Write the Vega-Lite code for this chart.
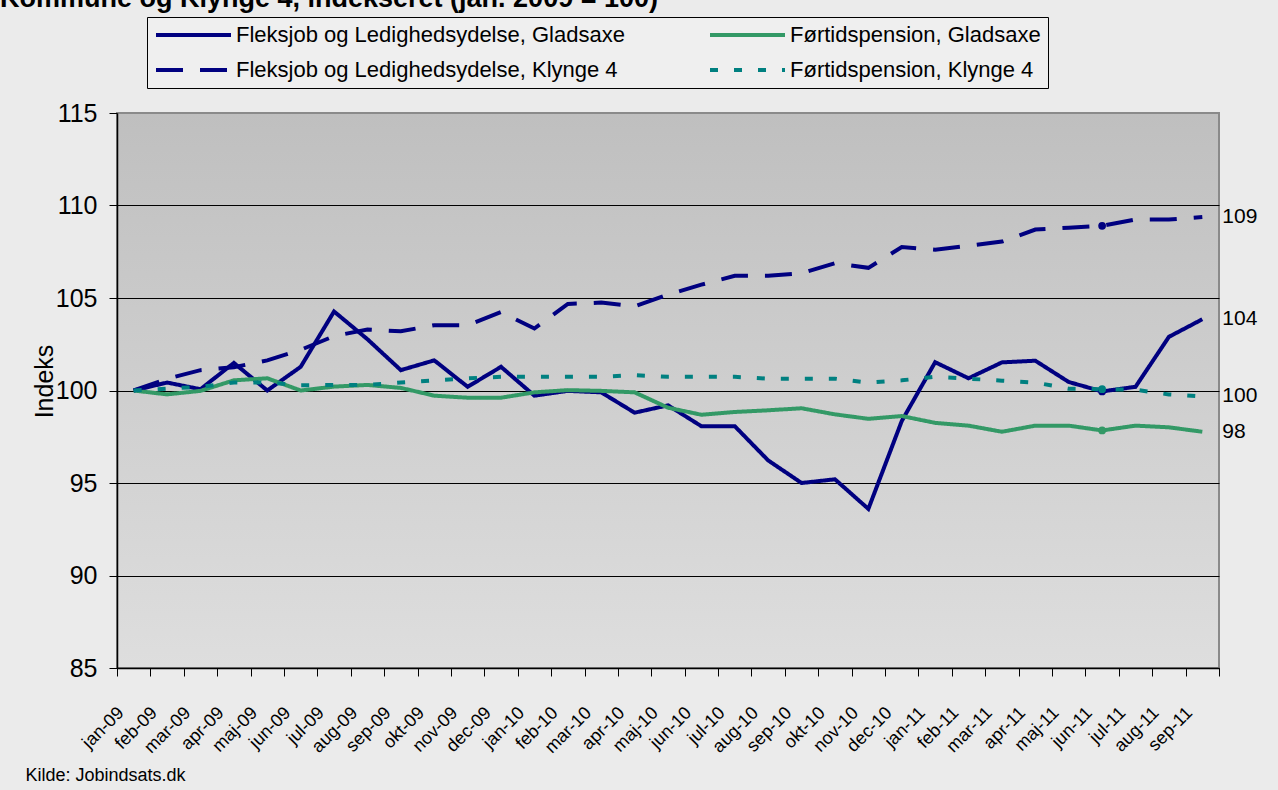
{
  "$schema": "https://vega.github.io/schema/vega-lite/v6.json",
  "autosize": "none",
  "width": 1102,
  "height": 555,
  "padding": {"left": 117, "top": 113, "right": 59, "bottom": 122},
  "background": "#ebebeb",
  "title": {
    "text": "Kommune og Klynge 4, indekseret (jan. 2009 = 100)",
    "anchor": "start",
    "dx": -25,
    "fontSize": 27,
    "font": "Liberation Sans",
    "fontWeight": "bold",
    "color": "#000000",
    "offset": 4
  },
  "config": {
    "font": "Liberation Sans",
    "view": {
      "fill": {
        "gradient": "linear",
        "x1": 0, "y1": 0, "x2": 0, "y2": 1,
        "stops": [{"offset": 0, "color": "#bfbfbf"}, {"offset": 1, "color": "#dedede"}]
      },
      "stroke": "#8a8a8a",
      "strokeWidth": 2
    }
  },
  "data": {
    "values": [
      {"month": "jan-09", "Fleksjob og Ledighedsydelse, Gladsaxe": 100, "Fleksjob og Ledighedsydelse, Klynge 4": 100, "Førtidspension, Gladsaxe": 100, "Førtidspension, Klynge 4": 100},
      {"month": "feb-09", "Fleksjob og Ledighedsydelse, Gladsaxe": 100.43, "Fleksjob og Ledighedsydelse, Klynge 4": 100.63, "Førtidspension, Gladsaxe": 99.79, "Førtidspension, Klynge 4": 100.1},
      {"month": "mar-09", "Fleksjob og Ledighedsydelse, Gladsaxe": 100.07, "Fleksjob og Ledighedsydelse, Klynge 4": 101.1, "Førtidspension, Gladsaxe": 99.98, "Førtidspension, Klynge 4": 100.2},
      {"month": "apr-09", "Fleksjob og Ledighedsydelse, Gladsaxe": 101.49, "Fleksjob og Ledighedsydelse, Klynge 4": 101.26, "Førtidspension, Gladsaxe": 100.55, "Førtidspension, Klynge 4": 100.43},
      {"month": "maj-09", "Fleksjob og Ledighedsydelse, Gladsaxe": 100.0, "Fleksjob og Ledighedsydelse, Klynge 4": 101.63, "Førtidspension, Gladsaxe": 100.66, "Førtidspension, Klynge 4": 100.43},
      {"month": "jun-09", "Fleksjob og Ledighedsydelse, Gladsaxe": 101.28, "Fleksjob og Ledighedsydelse, Klynge 4": 102.2, "Førtidspension, Gladsaxe": 100.0, "Førtidspension, Klynge 4": 100.28},
      {"month": "jul-09", "Fleksjob og Ledighedsydelse, Gladsaxe": 104.27, "Fleksjob og Ledighedsydelse, Klynge 4": 102.94, "Førtidspension, Gladsaxe": 100.21, "Førtidspension, Klynge 4": 100.3},
      {"month": "aug-09", "Fleksjob og Ledighedsydelse, Gladsaxe": 102.77, "Fleksjob og Ledighedsydelse, Klynge 4": 103.3, "Førtidspension, Gladsaxe": 100.3, "Førtidspension, Klynge 4": 100.3},
      {"month": "sep-09", "Fleksjob og Ledighedsydelse, Gladsaxe": 101.1, "Fleksjob og Ledighedsydelse, Klynge 4": 103.2, "Førtidspension, Gladsaxe": 100.14, "Førtidspension, Klynge 4": 100.43},
      {"month": "okt-09", "Fleksjob og Ledighedsydelse, Gladsaxe": 101.63, "Fleksjob og Ledighedsydelse, Klynge 4": 103.53, "Førtidspension, Gladsaxe": 99.72, "Førtidspension, Klynge 4": 100.55},
      {"month": "nov-09", "Fleksjob og Ledighedsydelse, Gladsaxe": 100.2, "Fleksjob og Ledighedsydelse, Klynge 4": 103.53, "Førtidspension, Gladsaxe": 99.61, "Førtidspension, Klynge 4": 100.66},
      {"month": "dec-09", "Fleksjob og Ledighedsydelse, Gladsaxe": 101.28, "Fleksjob og Ledighedsydelse, Klynge 4": 104.24, "Førtidspension, Gladsaxe": 99.61, "Førtidspension, Klynge 4": 100.74},
      {"month": "jan-10", "Fleksjob og Ledighedsydelse, Gladsaxe": 99.72, "Fleksjob og Ledighedsydelse, Klynge 4": 103.35, "Førtidspension, Gladsaxe": 99.9, "Førtidspension, Klynge 4": 100.74},
      {"month": "feb-10", "Fleksjob og Ledighedsydelse, Gladsaxe": 99.98, "Fleksjob og Ledighedsydelse, Klynge 4": 104.68, "Førtidspension, Gladsaxe": 100.02, "Førtidspension, Klynge 4": 100.74},
      {"month": "mar-10", "Fleksjob og Ledighedsydelse, Gladsaxe": 99.9, "Fleksjob og Ledighedsydelse, Klynge 4": 104.75, "Førtidspension, Gladsaxe": 99.98, "Førtidspension, Klynge 4": 100.74},
      {"month": "apr-10", "Fleksjob og Ledighedsydelse, Gladsaxe": 98.8, "Fleksjob og Ledighedsydelse, Klynge 4": 104.55, "Førtidspension, Gladsaxe": 99.9, "Førtidspension, Klynge 4": 100.83},
      {"month": "maj-10", "Fleksjob og Ledighedsydelse, Gladsaxe": 99.2, "Fleksjob og Ledighedsydelse, Klynge 4": 105.18, "Førtidspension, Gladsaxe": 99.07, "Førtidspension, Klynge 4": 100.74},
      {"month": "jun-10", "Fleksjob og Ledighedsydelse, Gladsaxe": 98.07, "Fleksjob og Ledighedsydelse, Klynge 4": 105.72, "Førtidspension, Gladsaxe": 98.69, "Førtidspension, Klynge 4": 100.74},
      {"month": "jul-10", "Fleksjob og Ledighedsydelse, Gladsaxe": 98.07, "Fleksjob og Ledighedsydelse, Klynge 4": 106.2, "Førtidspension, Gladsaxe": 98.84, "Førtidspension, Klynge 4": 100.74},
      {"month": "aug-10", "Fleksjob og Ledighedsydelse, Gladsaxe": 96.22, "Fleksjob og Ledighedsydelse, Klynge 4": 106.2, "Førtidspension, Gladsaxe": 98.93, "Førtidspension, Klynge 4": 100.64},
      {"month": "sep-10", "Fleksjob og Ledighedsydelse, Gladsaxe": 95.0, "Fleksjob og Ledighedsydelse, Klynge 4": 106.34, "Førtidspension, Gladsaxe": 99.04, "Førtidspension, Klynge 4": 100.64},
      {"month": "okt-10", "Fleksjob og Ledighedsydelse, Gladsaxe": 95.2, "Fleksjob og Ledighedsydelse, Klynge 4": 106.88, "Førtidspension, Gladsaxe": 98.71, "Førtidspension, Klynge 4": 100.64},
      {"month": "nov-10", "Fleksjob og Ledighedsydelse, Gladsaxe": 93.6, "Fleksjob og Ledighedsydelse, Klynge 4": 106.63, "Førtidspension, Gladsaxe": 98.47, "Førtidspension, Klynge 4": 100.43},
      {"month": "dec-10", "Fleksjob og Ledighedsydelse, Gladsaxe": 98.35, "Fleksjob og Ledighedsydelse, Klynge 4": 107.75, "Førtidspension, Gladsaxe": 98.62, "Førtidspension, Klynge 4": 100.55},
      {"month": "jan-11", "Fleksjob og Ledighedsydelse, Gladsaxe": 101.53, "Fleksjob og Ledighedsydelse, Klynge 4": 107.61, "Førtidspension, Gladsaxe": 98.25, "Førtidspension, Klynge 4": 100.74},
      {"month": "feb-11", "Fleksjob og Ledighedsydelse, Gladsaxe": 100.66, "Fleksjob og Ledighedsydelse, Klynge 4": 107.82, "Førtidspension, Gladsaxe": 98.1, "Førtidspension, Klynge 4": 100.64},
      {"month": "mar-11", "Fleksjob og Ledighedsydelse, Gladsaxe": 101.52, "Fleksjob og Ledighedsydelse, Klynge 4": 108.05, "Førtidspension, Gladsaxe": 97.77, "Førtidspension, Klynge 4": 100.53},
      {"month": "apr-11", "Fleksjob og Ledighedsydelse, Gladsaxe": 101.61, "Fleksjob og Ledighedsydelse, Klynge 4": 108.7, "Førtidspension, Gladsaxe": 98.1, "Førtidspension, Klynge 4": 100.43},
      {"month": "maj-11", "Fleksjob og Ledighedsydelse, Gladsaxe": 100.46, "Fleksjob og Ledighedsydelse, Klynge 4": 108.8, "Førtidspension, Gladsaxe": 98.1, "Førtidspension, Klynge 4": 100.1},
      {"month": "jun-11", "Fleksjob og Ledighedsydelse, Gladsaxe": 99.95, "Fleksjob og Ledighedsydelse, Klynge 4": 108.9, "Førtidspension, Gladsaxe": 97.84, "Førtidspension, Klynge 4": 100.07},
      {"month": "jul-11", "Fleksjob og Ledighedsydelse, Gladsaxe": 100.2, "Fleksjob og Ledighedsydelse, Klynge 4": 109.24, "Førtidspension, Gladsaxe": 98.1, "Førtidspension, Klynge 4": 100.04},
      {"month": "aug-11", "Fleksjob og Ledighedsydelse, Gladsaxe": 102.9, "Fleksjob og Ledighedsydelse, Klynge 4": 109.24, "Førtidspension, Gladsaxe": 98.01, "Førtidspension, Klynge 4": 99.79},
      {"month": "sep-11", "Fleksjob og Ledighedsydelse, Gladsaxe": 103.85, "Fleksjob og Ledighedsydelse, Klynge 4": 109.38, "Førtidspension, Gladsaxe": 97.77, "Førtidspension, Klynge 4": 99.68}
    ]
  },
  "transform": [
    {"fold": ["Fleksjob og Ledighedsydelse, Gladsaxe", "Førtidspension, Gladsaxe", "Fleksjob og Ledighedsydelse, Klynge 4", "Førtidspension, Klynge 4"], "as": ["series", "value"]}
  ],
  "encoding": {
    "x": {
      "field": "month",
      "type": "ordinal",
      "sort": null,
      "scale": {"type": "band", "paddingInner": 0, "paddingOuter": 0},
      "axis": {
        "title": "Kilde: Jobindsats.dk",
        "titleFont": "Liberation Sans",
        "titleFontSize": 18,
        "titleFontWeight": "normal",
        "titleColor": "#000000",
        "titleAnchor": "start",
        "titleAlign": "left",
        "titleBaseline": "alphabetic",
        "titleX": -92,
        "titleY": 112,
        "tickBand": "extent",
        "labelAngle": -45,
        "labelAlign": "right",
        "labelBaseline": "middle",
        "labelOffset": -13,
        "labelPadding": 34,
        "labelFontSize": 18,
        "labelColor": "#000000",
        "tickColor": "#000000",
        "tickSize": 8,
        "domainColor": "#000000",
        "domainWidth": 1.5,
        "grid": false
      }
    },
    "y": {
      "field": "value",
      "type": "quantitative",
      "scale": {"domain": [85, 115], "nice": false, "zero": false},
      "axis": {
        "title": "Indeks",
        "titleFontSize": 25,
        "titleFontWeight": "normal",
        "titleColor": "#000000",
        "titleX": -65,
        "titleY": 268,
        "titleAlign": "center",
        "titleBaseline": "alphabetic",
        "titleAngle": -90,
        "values": [85, 90, 95, 100, 105, 110, 115],
        "labelFontSize": 25,
        "labelColor": "#000000",
        "labelPadding": 12,
        "tickColor": "#000000",
        "tickSize": 8,
        "domainColor": "#000000",
        "domainWidth": 1.5,
        "grid": true,
        "gridColor": {"condition": {"test": "datum.value === 115", "value": "#8a8a8a"}, "value": "#000000"},
        "gridWidth": 1.2,
        "gridOpacity": 1
      }
    }
  },
  "layer": [
    {
      "mark": {"type": "line", "strokeCap": "butt", "strokeWidth": 4},
      "encoding": {
        "color": {
          "field": "series",
          "type": "nominal",
          "scale": {
            "domain": ["Fleksjob og Ledighedsydelse, Gladsaxe", "Førtidspension, Gladsaxe", "Fleksjob og Ledighedsydelse, Klynge 4", "Førtidspension, Klynge 4"],
            "range": ["#000080", "#339966", "#000080", "#008080"]
          },
          "legend": {
            "orient": "none",
            "legendX": 30,
            "legendY": -96,
            "direction": "horizontal",
            "columns": 2,
            "title": null,
            "labelFontSize": 22,
            "labelColor": "#000000",
            "labelLimit": 600,
            "labelOffset": 3,
            "symbolSize": 5625,
            "symbolType": "stroke",
            "symbolStrokeWidth": 4,
            "clipHeight": 22,
            "columnPadding": 83,
            "rowPadding": 13,
            "padding": 7,
            "fillColor": "#efefef",
            "strokeColor": "#000000"
          }
        },
        "strokeDash": {
          "field": "series",
          "type": "nominal",
          "scale": {
            "domain": ["Fleksjob og Ledighedsydelse, Gladsaxe", "Førtidspension, Gladsaxe", "Fleksjob og Ledighedsydelse, Klynge 4", "Førtidspension, Klynge 4"],
            "range": [[1, 0], [1, 0], [27, 17], [8, 16]]
          },
          "legend": {
            "orient": "none",
            "legendX": 30,
            "legendY": -96,
            "direction": "horizontal",
            "columns": 2,
            "title": null,
            "symbolSize": 5625,
            "symbolType": "stroke",
            "symbolStrokeWidth": 4,
            "clipHeight": 22
          }
        }
      }
    },
    {
      "transform": [{"filter": "datum.month === 'jun-11'"}],
      "mark": {"type": "point", "filled": true, "opacity": 1, "size": 60},
      "encoding": {
        "color": {"field": "series", "type": "nominal", "legend": null}
      }
    },
    {
      "transform": [{"filter": "datum.month === 'sep-11'"}],
      "mark": {"type": "text", "align": "left", "baseline": "middle", "dx": 20, "fontSize": 21, "color": "#000000"},
      "encoding": {
        "text": {"field": "value", "type": "quantitative", "format": ".0f"}
      }
    }
  ]
}
